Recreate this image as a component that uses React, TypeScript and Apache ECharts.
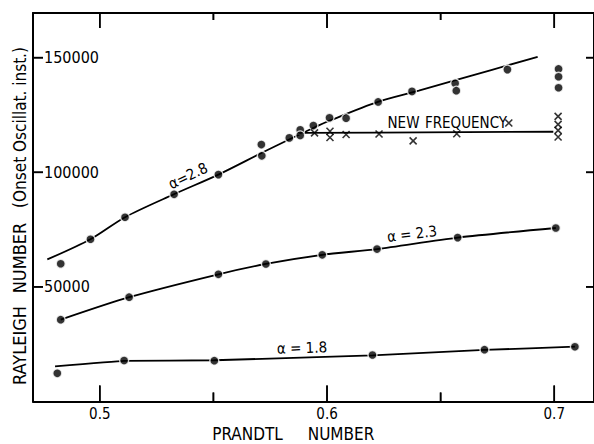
import React, { useEffect, useRef } from "react";
import * as echarts from "echarts";

// ---- axis ticks ----
const xMajorTicks = [0.5, 0.6, 0.7];
const xMinorTicks = [0.55, 0.65];
const yTicks = [50000, 100000, 150000];

// ---- alpha = 2.8 : measured points (dots) ----
const alpha28Dots: [number, number][] = [
  [0.4828, 60100], [0.4959, 70800], [0.5111, 80400], [0.5327, 90400],
  [0.5522, 99000], [0.5711, 112100], [0.5713, 107200], [0.5834, 115000],
  [0.5882, 118500], [0.5882, 116100], [0.594, 120400], [0.6011, 123800],
  [0.6084, 123600], [0.6225, 130700], [0.6374, 135300], [0.6564, 138800],
  [0.6569, 135600], [0.6794, 144800], [0.7019, 145100], [0.7019, 141700],
  [0.7019, 136900],
];
// alpha = 2.8 : fitted curve
const alpha28Curve: [number, number][] = [
  [0.4769, 62000], [0.4959, 70800], [0.5111, 80400], [0.5326, 90400],
  [0.5522, 99000], [0.5711, 108400], [0.5833, 114300], [0.5939, 119300],
  [0.6009, 122400], [0.6224, 130700], [0.6404, 135600], [0.6566, 140200],
  [0.6927, 150400],
];

// ---- new frequency : crosses and line ----
const newFreqCrosses: [number, number][] = [
  [0.5945, 117200], [0.6013, 117900], [0.6013, 115200], [0.6084, 116500],
  [0.6229, 116700], [0.6379, 113700], [0.6571, 116800], [0.68, 121500],
  [0.7017, 124400], [0.7017, 120900], [0.7017, 118300], [0.7017, 115400],
];
const newFreqLine: [number, number][] = [
  [0.5895, 117200], [0.6224, 117300], [0.6996, 117700],
];

// ---- alpha = 2.3 ----
const alpha23Dots: [number, number][] = [
  [0.4828, 35700], [0.5129, 45500], [0.5522, 55500], [0.5731, 60000],
  [0.5979, 64000], [0.622, 66500], [0.6575, 71500], [0.7007, 75700],
];
const alpha23Curve: [number, number][] = [
  [0.4828, 35700], [0.5129, 45500], [0.5522, 55500], [0.5731, 60000],
  [0.5979, 64000], [0.622, 66500], [0.6575, 71500], [0.7007, 75700],
];

// ---- alpha = 1.8 ----
const alpha18Dots: [number, number][] = [
  [0.4813, 12300], [0.5107, 17900], [0.5504, 17800], [0.62, 20300],
  [0.6693, 22600], [0.7091, 23900],
];
const alpha18Curve: [number, number][] = [
  [0.4803, 15300], [0.5107, 17700], [0.5504, 18000], [0.62, 20100],
  [0.6693, 22500], [0.7091, 23900],
];

const FONT = "'DejaVu Sans Condensed', 'Liberation Sans Narrow', 'DejaVu Sans', sans-serif";
const X_MIN = 0.4706;
const X_MAX = 0.7175;
const Y_MIN = 0;
const Y_MAX = 169500;
const Y_STEP = 50000;

const black = "#000";

function xAxisDef(position: "top" | "bottom", showLabel: boolean) {
  return {
    type: "value",
    position,
    min: X_MIN,
    max: X_MAX,
    axisLine: { show: true, onZero: false, lineStyle: { color: black, width: 2 } },
    axisTick: { show: false },
    axisLabel: {
      show: showLabel,
      customValues: xMajorTicks,
      formatter: (v: number) => v.toFixed(1),
      margin: 5,
      fontSize: 15,
      lineHeight: 15,
      color: black,
      fontFamily: FONT,
    },
    splitLine: { show: false },
  };
}

function yAxisDef(position: "left" | "right", showLabel: boolean) {
  return {
    type: "value",
    position,
    min: Y_MIN,
    max: Y_MAX,
    interval: Y_STEP,
    axisLine: { show: true, onZero: false, lineStyle: { color: black, width: 2 } },
    axisTick: { show: false },
    axisLabel: {
      show: showLabel,
      inside: true,
      showMinLabel: false,
      showMaxLabel: false,
      formatter: (v: number) => (yTicks.indexOf(v) >= 0 ? String(v) : ""),
      margin: 11,
      fontSize: 16,
      color: black,
      fontFamily: FONT,
    },
    splitLine: { show: false },
  };
}

type Side = "bottom" | "top" | "left" | "right";
function tickAnchor(v: number, side: Side): [number, number] {
  return side === "bottom" ? [v, Y_MIN] : side === "top" ? [v, Y_MAX] : side === "left" ? [X_MIN, v] : [X_MAX, v];
}
function tickEnd(p: number[], side: Side, len: number): [number, number] {
  if (side === "bottom") return [p[0], p[1] - len];
  if (side === "top") return [p[0], p[1] + len];
  if (side === "left") return [p[0] + len, p[1]];
  return [p[0] - len, p[1]];
}

// tick marks as a custom series (through the axis scales)
function tickSeries(values: number[], side: Side, len: number) {
  return {
    type: "custom",
    data: values.map((v) => tickAnchor(v, side)),
    renderItem: (_p: any, api: any) => {
      const p = api.coord([api.value(0), api.value(1)]);
      const e = tickEnd(p, side, len);
      return {
        type: "line",
        shape: { x1: p[0], y1: p[1], x2: e[0], y2: e[1] },
        style: { stroke: black, lineWidth: 1.6 },
      };
    },
  };
}

const tickSpecs: { values: number[]; side: Side; len: number }[] = [
  { values: xMajorTicks, side: "bottom", len: 16 },
  { values: xMinorTicks, side: "bottom", len: 9 },
  { values: xMajorTicks, side: "top", len: 15 },
  { values: xMinorTicks, side: "top", len: 7 },
  { values: yTicks, side: "left", len: 10 },
  { values: yTicks, side: "right", len: 8 },
];

const lineSeries = (name: string, data: [number, number][], smooth: number) => ({
  name,
  type: "line",
  data,
  showSymbol: false,
  symbol: "none",
  smooth,
  lineStyle: { color: black, width: 1.8 },
  z: 2,
});

const dotSeries = (name: string, data: [number, number][]) => ({
  name,
  type: "scatter",
  data,
  symbol: "circle",
  symbolSize: 9,
  itemStyle: { color: black, borderColor: "#fff", borderWidth: 1.4 },
  z: 4,
});

function textEl(text: string, x: number, y: number, size: number, rotation = 0) {
  return {
    type: "text",
    x,
    y,
    rotation,
    style: {
      text,
      fontSize: size,
      fontFamily: FONT,
      fill: black,
      align: "center",
      verticalAlign: "middle",
      textAlign: "center",
      textVerticalAlign: "middle",
    },
    z: 10,
  };
}

export default function App() {
  const ref = useRef<HTMLDivElement>(null);
  useEffect(() => {
    if (!ref.current) return;
    const chart = echarts.init(ref.current, null, { renderer: "svg" });
    const option: any = {
      animation: false,
      backgroundColor: "#fff",
      grid: { left: 33, top: 13, width: 563, height: 388.5 },
      xAxis: [xAxisDef("bottom", true), xAxisDef("top", false)],
      yAxis: [yAxisDef("left", true), yAxisDef("right", false)],
      series: [
        lineSeries("alpha 2.8", alpha28Curve, 0.3),
        lineSeries("new frequency", newFreqLine, 0),
        lineSeries("alpha 2.3", alpha23Curve, 0.25),
        lineSeries("alpha 1.8", alpha18Curve, 0.1),
        dotSeries("alpha 2.8 points", alpha28Dots),
        dotSeries("alpha 2.3 points", alpha23Dots),
        dotSeries("alpha 1.8 points", alpha18Dots),
        {
          name: "new frequency points",
          type: "scatter",
          data: newFreqCrosses,
          symbol: "path://M0,0L10,10M10,0L0,10",
          symbolSize: 7,
          itemStyle: { color: "none", borderColor: black, borderWidth: 1.6 },
          z: 5,
        },
        ...tickSpecs.map((t) => tickSeries(t.values, t.side, t.len)),
      ],
    };
    chart.setOption(option);

    // tick marks also placed as graphic lines, positioned with the chart's own scales
    const tickEls: any[] = [];
    tickSpecs.forEach((t) => {
      t.values.forEach((v) => {
        const p = chart.convertToPixel({ gridIndex: 0 } as any, tickAnchor(v, t.side)) as any;
        if (!p || !isFinite(p[0]) || !isFinite(p[1])) return;
        const e = tickEnd(p, t.side, t.len);
        tickEls.push({
          type: "line",
          shape: { x1: p[0], y1: p[1], x2: e[0], y2: e[1] },
          style: { stroke: black, lineWidth: 1.6 },
          z: 9,
        });
      });
    });

    chart.setOption({
      graphic: [
        textEl("α=2.8", 188, 176, 15, 0.45),
        textEl("NEW", 403.5, 123, 15),
        textEl("FREQUENCY", 466, 123, 15),
        textEl("α = 2.3", 412, 234, 15, 0.12),
        textEl("α = 1.8", 302, 348, 15, 0.03),
        textEl("PRANDTL", 247.5, 433.5, 17),
        textEl("NUMBER", 341, 433.5, 17),
        textEl("RAYLEIGH", 19.5, 345.5, 18, Math.PI / 2),
        textEl("NUMBER", 19.5, 258, 18, Math.PI / 2),
        textEl("(Onset Oscillat. inst.)", 19.5, 127.5, 17, Math.PI / 2),
        ...tickEls,
      ],
    });
    return () => chart.dispose();
  }, []);
  return (
    <div
      ref={ref}
      style={{ position: "fixed", left: 0, top: 0, width: 594, height: 444, background: "#fff" }}
    />
  );
}
